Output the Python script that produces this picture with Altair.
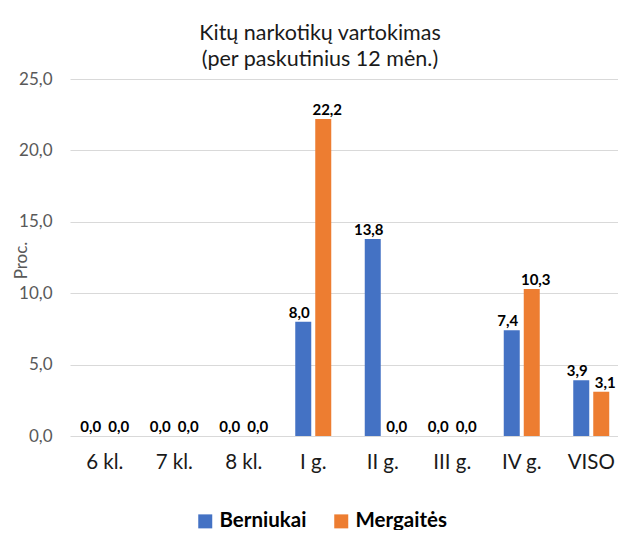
import altair as alt
import pandas as pd

categories = ["6 kl.", "7 kl.", "8 kl.", "I g.", "II g.", "III g.", "IV g.", "VISO"]
berniukai = [0.0, 0.0, 0.0, 8.0, 13.8, 0.0, 7.4, 3.9]
mergaites = [0.0, 0.0, 0.0, 22.2, 0.0, 0.0, 10.3, 3.1]
series = ["Berniukai", "Mergaitės"]
colors = ["#4472C4", "#ED7D31"]
y_ticks = [0, 5, 10, 15, 20, 25]

rows = []
for c, b, m in zip(categories, berniukai, mergaites):
    rows.append({"cat": c, "ser": series[0], "val": b})
    rows.append({"cat": c, "ser": series[1], "val": m})
df = pd.DataFrame(rows)
df["lbl"] = df["val"].map(lambda v: f"{v:.1f}".replace(".", ","))

FONT = "Lato"

base = alt.Chart(df).encode(
    x=alt.X(
        "cat:N",
        sort=categories,
        scale=alt.Scale(range=[0, 556], paddingInner=0, paddingOuter=0),
        axis=alt.Axis(
            title=None, labelAngle=0, labelFontSize=20.5, labelColor="#1A1A1A",
            labelFont=FONT, ticks=False, domain=False, labelPadding=16,
        ),
    ),
    xOffset=alt.XOffset(
        "ser:N", sort=series,
        scale=alt.Scale(paddingInner=0.2, paddingOuter=0.8375),
    ),
    y=alt.Y(
        "val:Q",
        scale=alt.Scale(domain=[0, 25], nice=False),
        axis=alt.Axis(
            values=y_ticks,
            labelExpr="replace(format(datum.value, '.1f'), '.', ',')",
            title="Proc.", titleFont=FONT, titleFontSize=17, titleFontWeight="normal",
            titleColor="#595959", titleX=-49, titleY=181, titleAngle=-90,
            titleAlign="center", titleBaseline="middle",
            labelFont=FONT, labelFontSize=17, labelColor="#595959", labelPadding=18,
            ticks=False, domain=False, gridColor="#D9D9D9", gridWidth=1,
        ),
    ),
)

bars = base.mark_bar().encode(
    color=alt.Color(
        "ser:N", sort=series,
        scale=alt.Scale(domain=series, range=colors),
        legend=alt.Legend(
            title=None, orient="none", legendX=125, legendY=432, direction="horizontal",
            symbolType="square", symbolSize=196, symbolStrokeWidth=0,
            labelFont=FONT, labelFontSize=20.5, labelFontWeight="bold", labelColor="#000000",
            columnPadding=24,
        ),
    )
)

label_style = dict(baseline="alphabetic", fontSize=15, fontWeight="bold", font=FONT, color="#000000")

labels_b = base.mark_text(dy=-4, dx=-4, **label_style).encode(text="lbl:N").transform_filter(
    alt.datum.ser == series[0]
)
labels_m = base.mark_text(dy=-4, dx=4, **label_style).encode(text="lbl:N").transform_filter(
    alt.datum.ser == series[1]
)

chart = (bars + labels_b + labels_m).properties(
    width=548,
    height=357,
    title=alt.TitleParams(
        text=["Kitų narkotikų vartokimas", "(per paskutinius 12 mėn.)"],
        font=FONT, fontSize=21.5, fontWeight="normal", color="#1A1A1A",
        anchor="middle", dx=-24, offset=0, lineHeight=26,
    ),
    autosize=alt.AutoSizeParams(type="none"),
    padding={"left": 62, "top": 71, "right": 0, "bottom": 94},
).configure_view(stroke=None)

chart.save("out.html", embed_options={"renderer": "svg", "actions": False})
